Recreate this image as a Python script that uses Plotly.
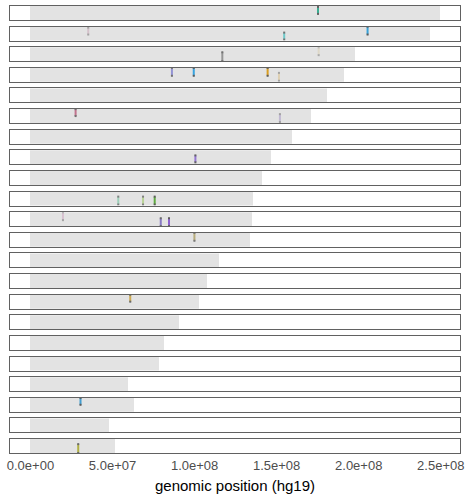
import plotly.graph_objects as go
from plotly.subplots import make_subplots

# hg19 autosome lengths (Mb)
chrom_names = [f"chr{i}" for i in range(1, 23)]
chrom_lengths_mb = [249.25, 243.20, 198.02, 191.15, 180.92, 171.12, 159.14, 146.36,
                    141.21, 135.53, 135.01, 133.85, 115.17, 107.35, 102.53, 90.35,
                    81.20, 78.08, 59.13, 63.03, 48.13, 51.30]

# Variant sites: chromosome index, position (Mb), vertical extent inside the track
site_chrom = [1, 2, 2, 2, 3, 3, 4, 4, 4, 4, 6, 6, 8, 10, 10, 10, 11, 11, 11, 12, 15, 20, 22]
site_pos_mb = [175.2, 35.2, 154.6, 205.4, 116.9, 175.6, 86.2, 99.5, 144.5, 151.4,
               27.5, 152.0, 100.5, 53.5, 68.6, 75.7, 19.8, 79.4, 84.4, 99.9, 60.8, 30.5, 29.1]
site_lo = [0.43, 0.43, 0.07, 0.43, 0.0, 0.43, 0.43, 0.43, 0.43, 0.07,
           0.5, 0.07, 0.14, 0.07, 0.07, 0.07, 0.43, 0.0, 0.0, 0.43, 0.5, 0.5, 0.0]
site_hi = [0.93, 0.93, 0.57, 1.0, 0.64, 1.0, 1.0, 1.0, 1.0, 0.64,
           1.0, 0.64, 0.64, 0.64, 0.64, 0.64, 1.0, 0.57, 0.57, 1.0, 1.0, 1.0, 0.64]

# Per-site drawing style
site_colors = ["#2aa88a", "#c49aae", "#52c4c4", "#2f9fd8", "#808080", "#d8c8a0",
               "#7f7fd0", "#2fa0e0", "#d89a18", "#d8b878", "#b85878", "#9a88c0",
               "#8a6ad0", "#80c8a8", "#a8cc78", "#58a838", "#c898b8", "#7868c0",
               "#8a5ad0", "#a89858", "#c8a038", "#3a9ad0", "#a8a828"]
site_alpha = [0.9, 0.45, 0.8, 0.95, 0.8, 0.4, 0.8, 0.95, 0.95, 0.45, 0.8, 0.45, 0.9,
              0.7, 0.7, 0.95, 0.45, 0.85, 0.95, 0.75, 0.85, 0.95, 0.85]

tick_vals = [0, 5e7, 1e8, 1.5e8, 2e8, 2.5e8]
tick_text = ["0.0e+00", "5.0e+07", "1.0e+08", "1.5e+08", "2.0e+08", "2.5e+08"]

n = len(chrom_names)
fig = make_subplots(rows=n, cols=1, shared_xaxes=True, vertical_spacing=0.0151)

max_len = max(chrom_lengths_mb) * 1e6
x_range = [-0.05 * max_len, 1.05 * max_len]

for i, (name, length) in enumerate(zip(chrom_names, chrom_lengths_mb)):
    fig.add_trace(go.Bar(x=[length * 1e6], y=[0.5], base=0, width=1, orientation="h",
                         marker=dict(color="#e3e3e3", line=dict(width=0)),
                         name=name, showlegend=False, hoverinfo="skip"),
                  row=i + 1, col=1)

for c, p, lo, hi, col, a in zip(site_chrom, site_pos_mb, site_lo, site_hi, site_colors, site_alpha):
    fig.add_trace(go.Scatter(x=[p * 1e6, p * 1e6], y=[lo, hi], mode="lines+markers",
                             line=dict(color=col, width=2),
                             marker=dict(size=2, color="#555555", symbol="square",
                                         line=dict(width=0)),
                             opacity=a, showlegend=False),
                  row=c, col=1)

for i in range(n):
    fig.update_yaxes(range=[0, 1], showticklabels=False, showgrid=False, zeroline=False,
                     showline=True, mirror=True, linecolor="#616161", linewidth=1.4,
                     ticks="", row=i + 1, col=1)
    fig.update_xaxes(range=x_range, showgrid=False, zeroline=False,
                     showline=True, mirror=True, linecolor="#616161", linewidth=1.4,
                     ticks="", showticklabels=(i == n - 1),
                     tickvals=tick_vals, ticktext=tick_text,
                     row=i + 1, col=1)

fig.update_xaxes(title=dict(text="genomic position (hg19)", standoff=8,
                            font=dict(size=15, color="#000000")),
                 tickfont=dict(size=13, color="#4d4d4d"), row=n, col=1)

fig.update_layout(width=469, height=496, margin=dict(l=10, r=6, t=5, b=41),
                  paper_bgcolor="white", plot_bgcolor="white", bargap=0,
                  font=dict(family="Liberation Sans, Arial, sans-serif"))

fig.write_html("out.html")
